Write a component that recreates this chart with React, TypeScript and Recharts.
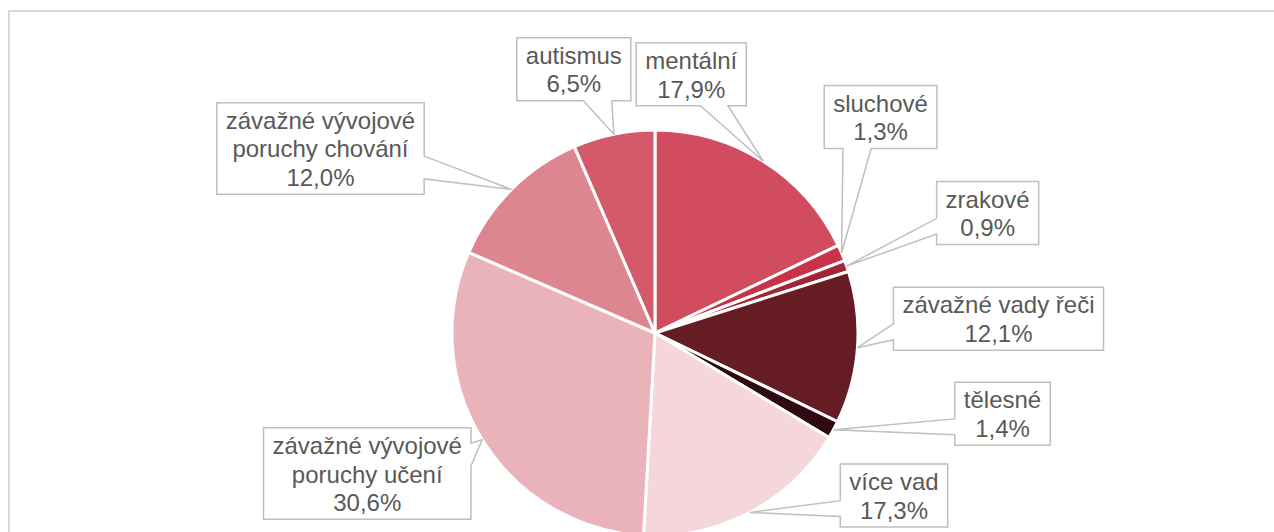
import { PieChart, Pie, Cell } from "recharts";

const categories = [
  "mentální",
  "sluchové",
  "zrakové",
  "závažné vady řeči",
  "tělesné",
  "více vad",
  "závažné vývojové\nporuchy učení",
  "závažné vývojové\nporuchy chování",
  "autismus",
];
const shares = [17.9, 1.3, 0.9, 12.1, 1.4, 17.3, 30.6, 12.0, 6.5];
const colors = ["#D04C5E", "#C8334A", "#A22638", "#661C25", "#2E0B12", "#F5D6DA", "#EAB3B9", "#DE868F", "#D55A69"];

// box centre relative to the slice's outer edge point
const calloutShift = [
  [-72, -87],
  [39, -136],
  [141, -53],
  [141, -29],
  [169, -16],
  [144, -17],
  [-115, 34],
  [-191, -41],
  [-40, -65],
];

const data = categories.map((name, i) => ({ name, value: shares[i] }));

const FONT = "24px 'Liberation Sans', Arial, sans-serif";
const LINE = 28.5;
let ctx: CanvasRenderingContext2D | null = null;
function textWidth(s: string) {
  if (!ctx) ctx = document.createElement("canvas").getContext("2d");
  if (!ctx) return s.length * 12;
  ctx.font = FONT;
  return ctx.measureText(s).width;
}

function wedgePath(l: number, t: number, w: number, h: number, tx: number, ty: number) {
  const r = l + w, b = t + h;
  const hc = l + w / 2, vc = t + h / 2;
  const dx = tx - hc, dy = ty - vc;
  const dq = (dx * h) / w;
  const vertical = Math.abs(dy) > Math.abs(dq);
  const x1 = l + (w * (dx > 0 ? 7 : 2)) / 12, x2 = l + (w * (dx > 0 ? 10 : 5)) / 12;
  const y1 = t + (h * (dy > 0 ? 7 : 2)) / 12, y2 = t + (h * (dy > 0 ? 10 : 5)) / 12;
  let p = `M${l},${t}`;
  if (vertical && dy < 0) p += ` L${x1},${t} L${tx},${ty} L${x2},${t}`;
  p += ` L${r},${t}`;
  if (!vertical && dx > 0) p += ` L${r},${y1} L${tx},${ty} L${r},${y2}`;
  p += ` L${r},${b}`;
  if (vertical && dy > 0) p += ` L${x2},${b} L${tx},${ty} L${x1},${b}`;
  p += ` L${l},${b}`;
  if (!vertical && dx < 0) p += ` L${l},${y2} L${tx},${ty} L${l},${y1}`;
  return p + " Z";
}

function Callout(props: any) {
  const { cx, cy, midAngle, outerRadius, index, name, value } = props;
  const rad = (-midAngle * Math.PI) / 180;
  const tx = cx + outerRadius * Math.cos(rad);
  const ty = cy + outerRadius * Math.sin(rad);
  const [sx, sy] = calloutShift[index];
  const bx = tx + sx, by = ty + sy;
  const lines = [...String(name).split("\n"), `${Number(value).toFixed(1).replace(".", ",")}%`];
  const w = Math.max(...lines.map(textWidth)) + 18;
  const h = lines.length * LINE + 6;
  const l = bx - w / 2, t = by - h / 2;
  return (
    <g>
      <path d={wedgePath(l, t, w, h, tx, ty)} fill="#fff" stroke="#BFBFBF" strokeWidth={1.5} />
      {lines.map((s, i) => (
        <text
          key={i}
          x={bx}
          y={by + (i - (lines.length - 1) / 2) * LINE + 9}
          textAnchor="middle"
          fill="#595959"
          style={{ font: FONT }}
        >
          {s}
        </text>
      ))}
    </g>
  );
}

export default function App() {
  return (
    <div style={{ position: "fixed", left: 0, top: 0, width: 1274, height: 532, overflow: "hidden", background: "#fff" }}>
      <div
        style={{
          position: "absolute",
          left: 8,
          top: 10,
          width: 1290,
          height: 620,
          border: "2px solid #D9D9D9",
          boxSizing: "border-box",
        }}
      />
      <div style={{ position: "absolute", left: 0, top: 0 }}>
        <PieChart width={1274} height={600} margin={{ top: 0, right: 0, bottom: 0, left: 0 }}>
          <Pie
            data={data}
            dataKey="value"
            nameKey="name"
            cx={655}
            cy={333}
            outerRadius={203}
            startAngle={90}
            endAngle={-270}
            stroke="#fff"
            strokeWidth={3}
            label={Callout}
            labelLine={false}
            isAnimationActive={false}
          >
            {data.map((d, i) => (
              <Cell key={d.name} fill={colors[i]} />
            ))}
          </Pie>
        </PieChart>
      </div>
    </div>
  );
}
